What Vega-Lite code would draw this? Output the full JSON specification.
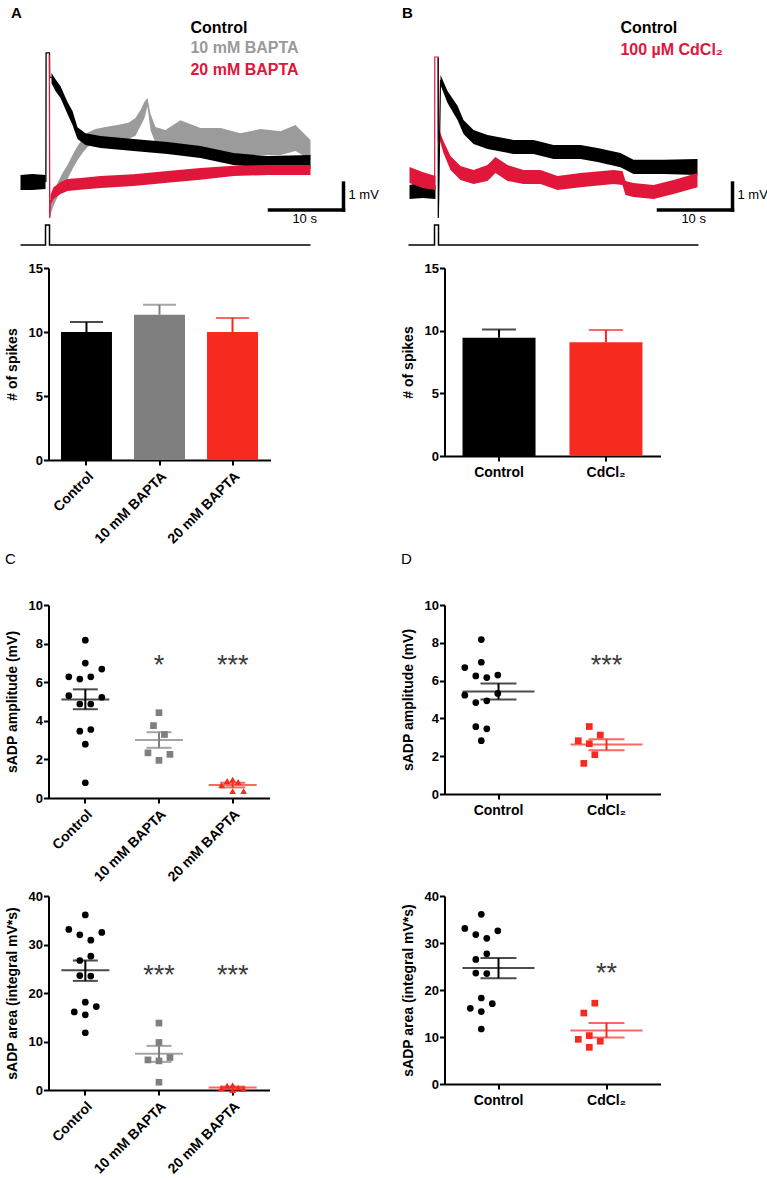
{
  "$schema": "https://vega.github.io/schema/vega-lite/v6.json",
  "background": "white",
  "padding": {"left": 4.5, "top": 0, "right": 0, "bottom": 0},
  "spacing": 6,
  "datasets": {
    "traceA": [
      {"trace": "Control", "seg": "pre", "t": 0, "lo": -0.3, "hi": 0.26},
      {"trace": "Control", "seg": "pre", "t": 1.6, "lo": -0.3, "hi": 0.3},
      {"trace": "Control", "seg": "pre", "t": 3.38, "lo": -0.26, "hi": 0.26},
      {"trace": "Control", "seg": "post", "t": 4.19, "lo": 3.66, "hi": 4.04},
      {"trace": "Control", "seg": "post", "t": 4.73, "lo": 3.37, "hi": 3.81},
      {"trace": "Control", "seg": "post", "t": 5.41, "lo": 3.11, "hi": 3.55},
      {"trace": "Control", "seg": "post", "t": 6.35, "lo": 2.52, "hi": 2.96},
      {"trace": "Control", "seg": "post", "t": 7.03, "lo": 2.11, "hi": 2.63},
      {"trace": "Control", "seg": "post", "t": 7.7, "lo": 1.59, "hi": 2.03},
      {"trace": "Control", "seg": "post", "t": 8.78, "lo": 1.37, "hi": 1.81},
      {"trace": "Control", "seg": "post", "t": 10.81, "lo": 1.26, "hi": 1.7},
      {"trace": "Control", "seg": "post", "t": 15.27, "lo": 1.15, "hi": 1.59},
      {"trace": "Control", "seg": "post", "t": 19.86, "lo": 1.04, "hi": 1.48},
      {"trace": "Control", "seg": "post", "t": 24.32, "lo": 0.89, "hi": 1.33},
      {"trace": "Control", "seg": "post", "t": 28.78, "lo": 0.63, "hi": 1.07},
      {"trace": "Control", "seg": "post", "t": 33.38, "lo": 0.52, "hi": 0.96},
      {"trace": "Control", "seg": "post", "t": 39.19, "lo": 0.48, "hi": 1.0},
      {"trace": "10 mM BAPTA", "seg": "post", "t": 4.05, "lo": -1.19, "hi": -0.89},
      {"trace": "10 mM BAPTA", "seg": "post", "t": 4.46, "lo": -0.89, "hi": -0.45},
      {"trace": "10 mM BAPTA", "seg": "post", "t": 5.0, "lo": -0.56, "hi": -0.04},
      {"trace": "10 mM BAPTA", "seg": "post", "t": 5.68, "lo": -0.19, "hi": 0.33},
      {"trace": "10 mM BAPTA", "seg": "post", "t": 6.35, "lo": 0.11, "hi": 0.63},
      {"trace": "10 mM BAPTA", "seg": "post", "t": 7.03, "lo": 0.48, "hi": 1.0},
      {"trace": "10 mM BAPTA", "seg": "post", "t": 7.7, "lo": 0.81, "hi": 1.33},
      {"trace": "10 mM BAPTA", "seg": "post", "t": 8.38, "lo": 1.07, "hi": 1.59},
      {"trace": "10 mM BAPTA", "seg": "post", "t": 9.05, "lo": 1.3, "hi": 1.82},
      {"trace": "10 mM BAPTA", "seg": "post", "t": 10.14, "lo": 1.44, "hi": 1.96},
      {"trace": "10 mM BAPTA", "seg": "post", "t": 11.49, "lo": 1.52, "hi": 2.04},
      {"trace": "10 mM BAPTA", "seg": "post", "t": 13.11, "lo": 1.51, "hi": 2.11},
      {"trace": "10 mM BAPTA", "seg": "post", "t": 14.59, "lo": 1.59, "hi": 2.19},
      {"trace": "10 mM BAPTA", "seg": "post", "t": 15.54, "lo": 1.71, "hi": 2.37},
      {"trace": "10 mM BAPTA", "seg": "post", "t": 16.22, "lo": 2.07, "hi": 2.67},
      {"trace": "10 mM BAPTA", "seg": "post", "t": 16.76, "lo": 2.37, "hi": 2.97},
      {"trace": "10 mM BAPTA", "seg": "post", "t": 17.16, "lo": 2.81, "hi": 3.11},
      {"trace": "10 mM BAPTA", "seg": "post", "t": 17.57, "lo": 1.92, "hi": 2.52},
      {"trace": "10 mM BAPTA", "seg": "post", "t": 18.24, "lo": 1.44, "hi": 2.04},
      {"trace": "10 mM BAPTA", "seg": "post", "t": 19.59, "lo": 1.19, "hi": 1.93},
      {"trace": "10 mM BAPTA", "seg": "post", "t": 21.62, "lo": 1.41, "hi": 2.29},
      {"trace": "10 mM BAPTA", "seg": "post", "t": 24.32, "lo": 1.12, "hi": 2.0},
      {"trace": "10 mM BAPTA", "seg": "post", "t": 27.03, "lo": 1.12, "hi": 2.0},
      {"trace": "10 mM BAPTA", "seg": "post", "t": 29.73, "lo": 0.93, "hi": 1.81},
      {"trace": "10 mM BAPTA", "seg": "post", "t": 32.43, "lo": 1.0, "hi": 1.96},
      {"trace": "10 mM BAPTA", "seg": "post", "t": 35.14, "lo": 1.0, "hi": 1.88},
      {"trace": "10 mM BAPTA", "seg": "post", "t": 37.16, "lo": 1.15, "hi": 2.11},
      {"trace": "10 mM BAPTA", "seg": "post", "t": 39.19, "lo": 0.82, "hi": 1.56},
      {"trace": "20 mM BAPTA", "seg": "post", "t": 4.05, "lo": -0.85, "hi": -0.48},
      {"trace": "20 mM BAPTA", "seg": "post", "t": 4.46, "lo": -0.63, "hi": -0.19},
      {"trace": "20 mM BAPTA", "seg": "post", "t": 5.41, "lo": -0.44, "hi": 0.0},
      {"trace": "20 mM BAPTA", "seg": "post", "t": 6.35, "lo": -0.33, "hi": 0.11},
      {"trace": "20 mM BAPTA", "seg": "post", "t": 8.11, "lo": -0.29, "hi": 0.15},
      {"trace": "20 mM BAPTA", "seg": "post", "t": 10.81, "lo": -0.22, "hi": 0.22},
      {"trace": "20 mM BAPTA", "seg": "post", "t": 15.27, "lo": -0.15, "hi": 0.29},
      {"trace": "20 mM BAPTA", "seg": "post", "t": 19.86, "lo": -0.03, "hi": 0.41},
      {"trace": "20 mM BAPTA", "seg": "post", "t": 24.32, "lo": 0.08, "hi": 0.52},
      {"trace": "20 mM BAPTA", "seg": "post", "t": 28.78, "lo": 0.22, "hi": 0.6},
      {"trace": "20 mM BAPTA", "seg": "post", "t": 33.38, "lo": 0.26, "hi": 0.63},
      {"trace": "20 mM BAPTA", "seg": "post", "t": 39.19, "lo": 0.26, "hi": 0.63}
    ],
    "traceB": [
      {"trace": "Control", "seg": "pre", "t": 0, "lo": -0.63, "hi": -0.11},
      {"trace": "Control", "seg": "pre", "t": 1.76, "lo": -0.59, "hi": 0.0},
      {"trace": "Control", "seg": "pre", "t": 3.51, "lo": -0.63, "hi": -0.11},
      {"trace": "Control", "seg": "post", "t": 4.19, "lo": 3.59, "hi": 3.96},
      {"trace": "Control", "seg": "post", "t": 5.14, "lo": 2.93, "hi": 3.37},
      {"trace": "Control", "seg": "post", "t": 6.49, "lo": 2.3, "hi": 2.82},
      {"trace": "Control", "seg": "post", "t": 7.3, "lo": 1.78, "hi": 2.3},
      {"trace": "Control", "seg": "post", "t": 8.65, "lo": 1.41, "hi": 1.93},
      {"trace": "Control", "seg": "post", "t": 10.54, "lo": 1.22, "hi": 1.74},
      {"trace": "Control", "seg": "post", "t": 14.05, "lo": 1.04, "hi": 1.56},
      {"trace": "Control", "seg": "post", "t": 16.76, "lo": 1.04, "hi": 1.56},
      {"trace": "Control", "seg": "post", "t": 19.46, "lo": 0.85, "hi": 1.37},
      {"trace": "Control", "seg": "post", "t": 23.11, "lo": 0.85, "hi": 1.37},
      {"trace": "Control", "seg": "post", "t": 25.41, "lo": 0.74, "hi": 1.26},
      {"trace": "Control", "seg": "post", "t": 28.51, "lo": 0.55, "hi": 1.07},
      {"trace": "Control", "seg": "post", "t": 30.27, "lo": 0.3, "hi": 0.82},
      {"trace": "Control", "seg": "post", "t": 34.32, "lo": 0.3, "hi": 0.82},
      {"trace": "Control", "seg": "post", "t": 38.92, "lo": 0.26, "hi": 0.85},
      {"trace": "CdCl₂", "seg": "pre", "t": 0, "lo": -0.04, "hi": 0.56},
      {"trace": "CdCl₂", "seg": "pre", "t": 1.76, "lo": -0.22, "hi": 0.37},
      {"trace": "CdCl₂", "seg": "pre", "t": 3.51, "lo": -0.3, "hi": 0.22},
      {"trace": "CdCl₂", "seg": "post", "t": 3.96, "lo": 1.67, "hi": 1.96},
      {"trace": "CdCl₂", "seg": "post", "t": 4.59, "lo": 1.07, "hi": 1.52},
      {"trace": "CdCl₂", "seg": "post", "t": 5.54, "lo": 0.44, "hi": 0.96},
      {"trace": "CdCl₂", "seg": "post", "t": 6.89, "lo": 0.07, "hi": 0.59},
      {"trace": "CdCl₂", "seg": "post", "t": 8.65, "lo": -0.07, "hi": 0.44},
      {"trace": "CdCl₂", "seg": "post", "t": 10.54, "lo": 0.04, "hi": 0.63},
      {"trace": "CdCl₂", "seg": "post", "t": 11.62, "lo": 0.33, "hi": 0.93},
      {"trace": "CdCl₂", "seg": "post", "t": 13.24, "lo": 0.04, "hi": 0.63},
      {"trace": "CdCl₂", "seg": "post", "t": 15.41, "lo": -0.07, "hi": 0.44},
      {"trace": "CdCl₂", "seg": "post", "t": 17.7, "lo": -0.07, "hi": 0.44},
      {"trace": "CdCl₂", "seg": "post", "t": 20.0, "lo": -0.3, "hi": 0.22},
      {"trace": "CdCl₂", "seg": "post", "t": 23.11, "lo": -0.19, "hi": 0.33},
      {"trace": "CdCl₂", "seg": "post", "t": 27.57, "lo": -0.07, "hi": 0.44},
      {"trace": "CdCl₂", "seg": "post", "t": 28.78, "lo": -0.11, "hi": 0.41},
      {"trace": "CdCl₂", "seg": "post", "t": 29.19, "lo": -0.48, "hi": 0.04},
      {"trace": "CdCl₂", "seg": "post", "t": 30.27, "lo": -0.56, "hi": -0.04},
      {"trace": "CdCl₂", "seg": "post", "t": 32.97, "lo": -0.63, "hi": -0.11},
      {"trace": "CdCl₂", "seg": "post", "t": 35.68, "lo": -0.44, "hi": 0.07},
      {"trace": "CdCl₂", "seg": "post", "t": 38.92, "lo": -0.19, "hi": 0.33}
    ],
    "spikes": [
      {"panel": "A", "trace": "Control", "i": 0, "t": 3.43, "v": 0},
      {"panel": "A", "trace": "Control", "i": 1, "t": 3.46, "v": 4.78},
      {"panel": "A", "trace": "Control", "i": 2, "t": 3.92, "v": 4.78},
      {"panel": "A", "trace": "Control", "i": 3, "t": 3.94, "v": 3.9},
      {"panel": "A", "trace": "Control", "i": 4, "t": 4.19, "v": 3.85},
      {"panel": "A", "trace": "red", "i": 0, "t": 3.9, "v": 4.7},
      {"panel": "A", "trace": "red", "i": 1, "t": 3.95, "v": -1.33},
      {"panel": "A", "trace": "red", "i": 2, "t": 4.05, "v": -0.67},
      {"panel": "A", "trace": "gray", "i": 0, "t": 3.97, "v": -0.9},
      {"panel": "A", "trace": "gray", "i": 1, "t": 4.0, "v": -1.25},
      {"panel": "A", "trace": "gray", "i": 2, "t": 4.05, "v": -1.04},
      {"panel": "B", "trace": "red", "i": 0, "t": 3.4, "v": -0.04},
      {"panel": "B", "trace": "red", "i": 1, "t": 3.42, "v": 4.63},
      {"panel": "B", "trace": "red", "i": 2, "t": 3.88, "v": 4.63},
      {"panel": "B", "trace": "red", "i": 3, "t": 3.9, "v": 1.5},
      {"panel": "B", "trace": "red", "i": 4, "t": 3.96, "v": 1.81},
      {"panel": "B", "trace": "Control", "i": 0, "t": 3.87, "v": 4.6},
      {"panel": "B", "trace": "Control", "i": 1, "t": 3.89, "v": -1.33},
      {"panel": "B", "trace": "Control", "i": 2, "t": 3.95, "v": -0.5},
      {"panel": "B", "trace": "Control", "i": 3, "t": 4.19, "v": 3.78}
    ],
    "stim": [
      {"panel": "A", "i": 0, "t": 0, "s": 0},
      {"panel": "A", "i": 1, "t": 3.38, "s": 0},
      {"panel": "A", "i": 2, "t": 3.38, "s": 1},
      {"panel": "A", "i": 3, "t": 3.92, "s": 1},
      {"panel": "A", "i": 4, "t": 3.92, "s": 0},
      {"panel": "A", "i": 5, "t": 39.19, "s": 0},
      {"panel": "B", "i": 0, "t": -0.14, "s": 0},
      {"panel": "B", "i": 1, "t": 3.38, "s": 0},
      {"panel": "B", "i": 2, "t": 3.38, "s": 1},
      {"panel": "B", "i": 3, "t": 3.92, "s": 1},
      {"panel": "B", "i": 4, "t": 3.92, "s": 0},
      {"panel": "B", "i": 5, "t": 39.05, "s": 0}
    ],
    "scalebar": [
      {"t1": 43.65, "t2": 43.65, "v1": -0.04, "v2": -1.04},
      {"t1": 33.65, "t2": 43.65, "v1": -1.04, "v2": -1.04}
    ],
    "traceText": [
      {"panel": "A", "kind": "legend", "series": "Control", "text": "Control", "t": 22.97, "v": 5.72},
      {"panel": "A", "kind": "legend", "series": "10 mM BAPTA", "text": "10 mM BAPTA", "t": 22.97, "v": 4.96},
      {"panel": "A", "kind": "legend", "series": "20 mM BAPTA", "text": "20 mM BAPTA", "t": 22.97, "v": 4.15},
      {"panel": "B", "kind": "legend", "series": "Control", "text": "Control", "t": 28.5, "v": 5.7},
      {"panel": "B", "kind": "legend", "series": "CdCl₂", "text": "100 µM CdCl₂", "t": 28.5, "v": 4.89},
      {"panel": "A", "kind": "mv", "series": "Control", "text": "1 mV", "t": 44.32, "v": -0.48},
      {"panel": "B", "kind": "mv", "series": "Control", "text": "1 mV", "t": 44.32, "v": -0.48},
      {"panel": "A", "kind": "sec", "series": "Control", "text": "10 s", "t": 38.4, "v": -1.37},
      {"panel": "B", "kind": "sec", "series": "Control", "text": "10 s", "t": 38.4, "v": -1.37},
      {"panel": "A", "kind": "letter", "series": "Control", "text": "A", "t": -0.54, "v": 6.26},
      {"panel": "B", "kind": "letter", "series": "Control", "text": "B", "t": -0.27, "v": 6.26}
    ],
    "barsA": [
      {"group": "Control", "mean": 10.0, "upper": 10.78},
      {"group": "10 mM BAPTA", "mean": 11.35, "upper": 12.12},
      {"group": "20 mM BAPTA", "mean": 10.0, "upper": 11.1}
    ],
    "barsB": [
      {"group": "Control", "mean": 9.44, "upper": 10.1},
      {"group": "CdCl₂", "mean": 9.07, "upper": 10.05}
    ],
    "ampC": [
      {"group": "Control", "value": 8.18, "jitter": 0},
      {"group": "Control", "value": 6.99, "jitter": 0},
      {"group": "Control", "value": 6.28, "jitter": -3},
      {"group": "Control", "value": 6.16, "jitter": -1},
      {"group": "Control", "value": 6.28, "jitter": 1},
      {"group": "Control", "value": 6.68, "jitter": 3},
      {"group": "Control", "value": 5.3, "jitter": -3},
      {"group": "Control", "value": 5.22, "jitter": 3},
      {"group": "Control", "value": 4.87, "jitter": -1},
      {"group": "Control", "value": 4.87, "jitter": 1},
      {"group": "Control", "value": 3.46, "jitter": -1},
      {"group": "Control", "value": 3.55, "jitter": 1},
      {"group": "Control", "value": 2.79, "jitter": 0},
      {"group": "Control", "value": 0.79, "jitter": 0},
      {"group": "10 mM BAPTA", "value": 4.42, "jitter": 0},
      {"group": "10 mM BAPTA", "value": 3.75, "jitter": -1},
      {"group": "10 mM BAPTA", "value": 3.29, "jitter": 1},
      {"group": "10 mM BAPTA", "value": 2.34, "jitter": -2},
      {"group": "10 mM BAPTA", "value": 2.26, "jitter": 2},
      {"group": "10 mM BAPTA", "value": 1.95, "jitter": 0},
      {"group": "20 mM BAPTA", "value": 0.65, "jitter": -2},
      {"group": "20 mM BAPTA", "value": 0.88, "jitter": -1},
      {"group": "20 mM BAPTA", "value": 0.95, "jitter": 0},
      {"group": "20 mM BAPTA", "value": 0.83, "jitter": 1},
      {"group": "20 mM BAPTA", "value": 0.36, "jitter": 0},
      {"group": "20 mM BAPTA", "value": 0.36, "jitter": 2}
    ],
    "ampD": [
      {"group": "Control", "value": 8.17, "jitter": 0},
      {"group": "Control", "value": 6.97, "jitter": 0},
      {"group": "Control", "value": 6.69, "jitter": -3},
      {"group": "Control", "value": 6.25, "jitter": -1},
      {"group": "Control", "value": 6.16, "jitter": 1},
      {"group": "Control", "value": 6.29, "jitter": 3},
      {"group": "Control", "value": 5.23, "jitter": -3},
      {"group": "Control", "value": 5.32, "jitter": 3},
      {"group": "Control", "value": 4.84, "jitter": -1},
      {"group": "Control", "value": 4.93, "jitter": 1},
      {"group": "Control", "value": 3.56, "jitter": -1},
      {"group": "Control", "value": 3.45, "jitter": 1},
      {"group": "Control", "value": 2.82, "jitter": 0},
      {"group": "CdCl₂", "value": 3.57, "jitter": 0},
      {"group": "CdCl₂", "value": 3.12, "jitter": 2},
      {"group": "CdCl₂", "value": 2.82, "jitter": -2},
      {"group": "CdCl₂", "value": 2.66, "jitter": 0},
      {"group": "CdCl₂", "value": 2.08, "jitter": 1},
      {"group": "CdCl₂", "value": 1.62, "jitter": -1}
    ],
    "areaC": [
      {"group": "Control", "value": 36.1, "jitter": 0},
      {"group": "Control", "value": 33.1, "jitter": -3},
      {"group": "Control", "value": 32.0, "jitter": -1},
      {"group": "Control", "value": 30.9, "jitter": 1},
      {"group": "Control", "value": 32.5, "jitter": 3},
      {"group": "Control", "value": 26.7, "jitter": -1},
      {"group": "Control", "value": 27.6, "jitter": 1},
      {"group": "Control", "value": 23.6, "jitter": -1},
      {"group": "Control", "value": 23.5, "jitter": 1},
      {"group": "Control", "value": 18.1, "jitter": 0},
      {"group": "Control", "value": 16.1, "jitter": -2},
      {"group": "Control", "value": 17.2, "jitter": 2},
      {"group": "Control", "value": 15.5, "jitter": 0},
      {"group": "Control", "value": 11.8, "jitter": 0},
      {"group": "10 mM BAPTA", "value": 13.8, "jitter": 0},
      {"group": "10 mM BAPTA", "value": 9.8, "jitter": 0},
      {"group": "10 mM BAPTA", "value": 6.2, "jitter": -2},
      {"group": "10 mM BAPTA", "value": 6.0, "jitter": 0},
      {"group": "10 mM BAPTA", "value": 6.7, "jitter": 2},
      {"group": "10 mM BAPTA", "value": 1.6, "jitter": 0},
      {"group": "20 mM BAPTA", "value": 0.4, "jitter": -2},
      {"group": "20 mM BAPTA", "value": 0.9, "jitter": -1},
      {"group": "20 mM BAPTA", "value": 1.0, "jitter": 0},
      {"group": "20 mM BAPTA", "value": 0.5, "jitter": 1},
      {"group": "20 mM BAPTA", "value": 0.0, "jitter": 0},
      {"group": "20 mM BAPTA", "value": 0.2, "jitter": 2}
    ],
    "areaD": [
      {"group": "Control", "value": 36.1, "jitter": 0},
      {"group": "Control", "value": 33.1, "jitter": -3},
      {"group": "Control", "value": 31.8, "jitter": -1},
      {"group": "Control", "value": 31.0, "jitter": 1},
      {"group": "Control", "value": 32.6, "jitter": 3},
      {"group": "Control", "value": 26.5, "jitter": -1},
      {"group": "Control", "value": 27.7, "jitter": 1},
      {"group": "Control", "value": 23.6, "jitter": -1},
      {"group": "Control", "value": 23.5, "jitter": 1},
      {"group": "Control", "value": 18.3, "jitter": 0},
      {"group": "Control", "value": 16.1, "jitter": -2},
      {"group": "Control", "value": 17.1, "jitter": 2},
      {"group": "Control", "value": 15.4, "jitter": 0},
      {"group": "Control", "value": 11.7, "jitter": 0},
      {"group": "CdCl₂", "value": 17.2, "jitter": 1},
      {"group": "CdCl₂", "value": 15.1, "jitter": -1},
      {"group": "CdCl₂", "value": 10.3, "jitter": 0},
      {"group": "CdCl₂", "value": 9.5, "jitter": -2},
      {"group": "CdCl₂", "value": 9.1, "jitter": 2},
      {"group": "CdCl₂", "value": 7.8, "jitter": 0}
    ],
    "summ": [
      {"panel": "Camp", "group": "Control", "mean": 5.1, "lo": 4.6, "hi": 5.63},
      {"panel": "Camp", "group": "10 mM BAPTA", "mean": 3.0, "lo": 2.6, "hi": 3.41},
      {"panel": "Camp", "group": "20 mM BAPTA", "mean": 0.67, "lo": 0.55, "hi": 0.79},
      {"panel": "Damp", "group": "Control", "mean": 5.42, "lo": 5.0, "hi": 5.85},
      {"panel": "Damp", "group": "CdCl₂", "mean": 2.62, "lo": 2.32, "hi": 2.9},
      {"panel": "Carea", "group": "Control", "mean": 24.7, "lo": 22.5, "hi": 26.7},
      {"panel": "Carea", "group": "10 mM BAPTA", "mean": 7.5, "lo": 5.8, "hi": 9.1},
      {"panel": "Carea", "group": "20 mM BAPTA", "mean": 0.5, "lo": 0.3, "hi": 0.7},
      {"panel": "Darea", "group": "Control", "mean": 24.7, "lo": 22.5, "hi": 26.8},
      {"panel": "Darea", "group": "CdCl₂", "mean": 11.4, "lo": 9.9, "hi": 13.0}
    ],
    "stars": [
      {"panel": "Camp", "group": "10 mM BAPTA", "text": "*", "v": 6.4},
      {"panel": "Camp", "group": "20 mM BAPTA", "text": "***", "v": 6.4},
      {"panel": "Damp", "group": "CdCl₂", "text": "***", "v": 6.37},
      {"panel": "Carea", "group": "10 mM BAPTA", "text": "***", "v": 21.8},
      {"panel": "Carea", "group": "20 mM BAPTA", "text": "***", "v": 21.8},
      {"panel": "Darea", "group": "CdCl₂", "text": "**", "v": 21.7}
    ]
  },
  "vconcat": [
    {
      "spacing": 18,
      "hconcat": [
        {
          "width": 333, "height": 256,
          "resolve": {"scale": {"y": "independent"}},
          "layer": [
            {
              "layer": [
                {"data": {"name": "traceA"}, "transform": [{"filter": "datum.trace === '10 mM BAPTA'"}],
                 "mark": {"type": "area", "color": "#9b9b9b"},
                 "encoding": {"x": {"field": "t", "type": "quantitative", "scale": {"domain": [3.784, 48.784], "nice": false, "zero": false}, "axis": null},
                   "y": {"field": "lo", "type": "quantitative", "scale": {"domain": [-2.741, 6.741], "nice": false, "zero": false}, "axis": null},
                   "y2": {"field": "hi"}, "detail": {"field": "seg"}}},
                {"data": {"name": "traceA"}, "transform": [{"filter": "datum.trace === 'Control'"}],
                 "mark": {"type": "area", "color": "#000000"},
                 "encoding": {"x": {"field": "t", "type": "quantitative"}, "y": {"field": "lo", "type": "quantitative"}, "y2": {"field": "hi"}, "detail": {"field": "seg"}}},
                {"data": {"name": "traceA"}, "transform": [{"filter": "datum.trace === '20 mM BAPTA'"}],
                 "mark": {"type": "area", "color": "#e0163a"},
                 "encoding": {"x": {"field": "t", "type": "quantitative"}, "y": {"field": "lo", "type": "quantitative"}, "y2": {"field": "hi"}, "detail": {"field": "seg"}}},
                {"data": {"name": "spikes"}, "transform": [{"filter": "datum.panel === 'A' && datum.trace === 'gray'"}],
                 "mark": {"type": "line", "color": "#9b9b9b", "strokeWidth": 1.3},
                 "encoding": {"x": {"field": "t", "type": "quantitative"}, "y": {"field": "v", "type": "quantitative"}, "order": {"field": "i"}}},
                {"data": {"name": "spikes"}, "transform": [{"filter": "datum.panel === 'A' && datum.trace === 'Control'"}],
                 "mark": {"type": "line", "color": "#000000", "strokeWidth": 1.3},
                 "encoding": {"x": {"field": "t", "type": "quantitative"}, "y": {"field": "v", "type": "quantitative"}, "order": {"field": "i"}}},
                {"data": {"name": "spikes"}, "transform": [{"filter": "datum.panel === 'A' && datum.trace === 'red'"}],
                 "mark": {"type": "line", "color": "#e0163a", "strokeWidth": 1.3},
                 "encoding": {"x": {"field": "t", "type": "quantitative"}, "y": {"field": "v", "type": "quantitative"}, "order": {"field": "i"}}},
                {"data": {"name": "scalebar"},
                 "mark": {"type": "rule", "color": "#000000", "strokeWidth": 3.5, "strokeCap": "square"},
                 "encoding": {"x": {"field": "t1", "type": "quantitative"}, "x2": {"field": "t2"}, "y": {"field": "v1", "type": "quantitative"}, "y2": {"field": "v2"}}},
                {"data": {"name": "traceText"}, "transform": [{"filter": "datum.panel === 'A' && datum.kind === 'legend'"}],
                 "mark": {"type": "text", "align": "left", "baseline": "middle", "fontSize": 16, "fontWeight": "bold", "font": "Liberation Sans"},
                 "encoding": {"x": {"field": "t", "type": "quantitative"}, "y": {"field": "v", "type": "quantitative"}, "text": {"field": "text"},
                   "fill": {"field": "series", "type": "nominal", "scale": {"domain": ["Control", "10 mM BAPTA", "20 mM BAPTA", "CdCl₂"], "range": ["#000000", "#9a9a9a", "#e0163a", "#e0163a"]}, "legend": null}}},
                {"data": {"name": "traceText"}, "transform": [{"filter": "datum.panel === 'A' && datum.kind === 'mv'"}],
                 "mark": {"type": "text", "align": "left", "baseline": "middle", "fontSize": 13, "font": "Liberation Sans", "color": "#000000"},
                 "encoding": {"x": {"field": "t", "type": "quantitative"}, "y": {"field": "v", "type": "quantitative"}, "text": {"field": "text"}}},
                {"data": {"name": "traceText"}, "transform": [{"filter": "datum.panel === 'A' && datum.kind === 'sec'"}],
                 "mark": {"type": "text", "align": "center", "baseline": "middle", "fontSize": 13, "font": "Liberation Sans", "color": "#000000"},
                 "encoding": {"x": {"field": "t", "type": "quantitative"}, "y": {"field": "v", "type": "quantitative"}, "text": {"field": "text"}}},
                {"data": {"name": "traceText"}, "transform": [{"filter": "datum.panel === 'A' && datum.kind === 'letter'"}],
                 "mark": {"type": "text", "align": "center", "baseline": "middle", "fontSize": 15, "fontWeight": "bold", "font": "Liberation Sans", "color": "#000000"},
                 "encoding": {"x": {"field": "t", "type": "quantitative"}, "y": {"field": "v", "type": "quantitative"}, "text": {"field": "text"}}}
              ]
            },
            {"data": {"name": "stim"}, "transform": [{"filter": "datum.panel === 'A'"}],
             "mark": {"type": "line", "color": "#000000", "strokeWidth": 1.5},
             "encoding": {"x": {"field": "t", "type": "quantitative"},
               "y": {"field": "s", "type": "quantitative", "scale": {"domain": [-0.55, 12.25], "nice": false, "zero": false}, "axis": null},
               "order": {"field": "i"}}}
          ]
        },
        {
          "width": 365, "height": 256,
          "resolve": {"scale": {"y": "independent"}},
          "layer": [
            {
              "layer": [
                {"data": {"name": "traceB"}, "transform": [{"filter": "datum.trace === 'Control'"}],
                 "mark": {"type": "area", "color": "#000000"},
                 "encoding": {"x": {"field": "t", "type": "quantitative", "scale": {"domain": [-1.351, 47.973], "nice": false, "zero": false}, "axis": null},
                   "y": {"field": "lo", "type": "quantitative", "scale": {"domain": [-2.741, 6.741], "nice": false, "zero": false}, "axis": null},
                   "y2": {"field": "hi"}, "detail": {"field": "seg"}}},
                {"data": {"name": "traceB"}, "transform": [{"filter": "datum.trace === 'CdCl₂'"}],
                 "mark": {"type": "area", "color": "#e0163a"},
                 "encoding": {"x": {"field": "t", "type": "quantitative"}, "y": {"field": "lo", "type": "quantitative"}, "y2": {"field": "hi"}, "detail": {"field": "seg"}}},
                {"data": {"name": "spikes"}, "transform": [{"filter": "datum.panel === 'B' && datum.trace === 'red'"}],
                 "mark": {"type": "line", "color": "#e0163a", "strokeWidth": 1.2},
                 "encoding": {"x": {"field": "t", "type": "quantitative"}, "y": {"field": "v", "type": "quantitative"}, "order": {"field": "i"}}},
                {"data": {"name": "spikes"}, "transform": [{"filter": "datum.panel === 'B' && datum.trace === 'Control'"}],
                 "mark": {"type": "line", "color": "#000000", "strokeWidth": 1.2},
                 "encoding": {"x": {"field": "t", "type": "quantitative"}, "y": {"field": "v", "type": "quantitative"}, "order": {"field": "i"}}},
                {"data": {"name": "scalebar"},
                 "mark": {"type": "rule", "color": "#000000", "strokeWidth": 3.5, "strokeCap": "square"},
                 "encoding": {"x": {"field": "t1", "type": "quantitative"}, "x2": {"field": "t2"}, "y": {"field": "v1", "type": "quantitative"}, "y2": {"field": "v2"}}},
                {"data": {"name": "traceText"}, "transform": [{"filter": "datum.panel === 'B' && datum.kind === 'legend'"}],
                 "mark": {"type": "text", "align": "left", "baseline": "middle", "fontSize": 16, "fontWeight": "bold", "font": "Liberation Sans"},
                 "encoding": {"x": {"field": "t", "type": "quantitative"}, "y": {"field": "v", "type": "quantitative"}, "text": {"field": "text"},
                   "fill": {"field": "series", "type": "nominal", "scale": {"domain": ["Control", "10 mM BAPTA", "20 mM BAPTA", "CdCl₂"], "range": ["#000000", "#9a9a9a", "#e0163a", "#e0163a"]}, "legend": null}}},
                {"data": {"name": "traceText"}, "transform": [{"filter": "datum.panel === 'B' && datum.kind === 'mv'"}],
                 "mark": {"type": "text", "align": "left", "baseline": "middle", "fontSize": 13, "font": "Liberation Sans", "color": "#000000"},
                 "encoding": {"x": {"field": "t", "type": "quantitative"}, "y": {"field": "v", "type": "quantitative"}, "text": {"field": "text"}}},
                {"data": {"name": "traceText"}, "transform": [{"filter": "datum.panel === 'B' && datum.kind === 'sec'"}],
                 "mark": {"type": "text", "align": "center", "baseline": "middle", "fontSize": 13, "font": "Liberation Sans", "color": "#000000"},
                 "encoding": {"x": {"field": "t", "type": "quantitative"}, "y": {"field": "v", "type": "quantitative"}, "text": {"field": "text"}}},
                {"data": {"name": "traceText"}, "transform": [{"filter": "datum.panel === 'B' && datum.kind === 'letter'"}],
                 "mark": {"type": "text", "align": "center", "baseline": "middle", "fontSize": 15, "fontWeight": "bold", "font": "Liberation Sans", "color": "#000000"},
                 "encoding": {"x": {"field": "t", "type": "quantitative"}, "y": {"field": "v", "type": "quantitative"}, "text": {"field": "text"}}}
              ]
            },
            {"data": {"name": "stim"}, "transform": [{"filter": "datum.panel === 'B'"}],
             "mark": {"type": "line", "color": "#000000", "strokeWidth": 1.5},
             "encoding": {"x": {"field": "t", "type": "quantitative"},
               "y": {"field": "s", "type": "quantitative", "scale": {"domain": [-0.55, 12.25], "nice": false, "zero": false}, "axis": null},
               "order": {"field": "i"}}}
          ]
        }
      ]
    },
    {
      "spacing": 130,
      "hconcat": [
        {
          "width": 222, "height": 192,
          "data": {"name": "barsA"},
          "encoding": {"x": {"field": "group", "type": "nominal", "scale": {"type": "band", "domain": ["Control", "10 mM BAPTA", "20 mM BAPTA"], "paddingInner": 0.3, "paddingOuter": 0.17}, "axis": {"title": null, "labelAngle": -45}}},
          "layer": [
            {"mark": {"type": "bar", "size": 51},
             "encoding": {"y": {"field": "mean", "type": "quantitative", "scale": {"domain": [0, 15], "nice": false}, "axis": {"title": "# of spikes", "values": [0, 5, 10, 15], "labelOverlap": false}},
               "color": {"field": "group", "type": "nominal", "scale": {"domain": ["Control", "10 mM BAPTA", "20 mM BAPTA", "CdCl₂"], "range": ["#000000", "#7f7f7f", "#f72a1f", "#f72a1f"]}, "legend": null}}},
            {"mark": {"type": "rule", "strokeWidth": 2},
             "encoding": {"y": {"field": "mean", "type": "quantitative"}, "y2": {"field": "upper"}, "color": {"field": "group", "type": "nominal", "legend": null}}},
            {"mark": {"type": "tick", "thickness": 2, "size": 33},
             "encoding": {"y": {"field": "upper", "type": "quantitative"}, "color": {"field": "group", "type": "nominal", "legend": null}}}
          ]
        },
        {
          "width": 216, "height": 188,
          "data": {"name": "barsB"},
          "encoding": {"x": {"field": "group", "type": "nominal", "scale": {"type": "band", "domain": ["Control", "CdCl₂"], "paddingInner": 0.32, "paddingOuter": 0.17}, "axis": {"title": null, "labelAngle": 0}}},
          "layer": [
            {"mark": {"type": "bar", "size": 73},
             "encoding": {"y": {"field": "mean", "type": "quantitative", "scale": {"domain": [0, 15], "nice": false}, "axis": {"title": "# of spikes", "values": [0, 5, 10, 15], "labelOverlap": false}},
               "color": {"field": "group", "type": "nominal", "scale": {"domain": ["Control", "10 mM BAPTA", "20 mM BAPTA", "CdCl₂"], "range": ["#000000", "#7f7f7f", "#f72a1f", "#f72a1f"]}, "legend": null}}},
            {"mark": {"type": "rule", "strokeWidth": 2},
             "encoding": {"y": {"field": "mean", "type": "quantitative"}, "y2": {"field": "upper"}, "color": {"field": "group", "type": "nominal", "legend": null}}},
            {"mark": {"type": "tick", "thickness": 2, "size": 34},
             "encoding": {"y": {"field": "upper", "type": "quantitative"}, "color": {"field": "group", "type": "nominal", "legend": null}}}
          ]
        }
      ]
    },
    {
      "spacing": 131,
      "hconcat": [
        {
          "width": 221, "height": 193,
          "title": {"text": "C"},
          "encoding": {"x": {"field": "group", "type": "nominal", "scale": {"type": "band", "domain": ["Control", "10 mM BAPTA", "20 mM BAPTA"], "paddingInner": 0, "paddingOuter": 0}, "axis": {"title": null, "labelAngle": -45}}},
          "layer": [
            {"data": {"name": "ampC"}, "mark": {"type": "point", "filled": true, "opacity": 1, "size": 45},
             "encoding": {"xOffset": {"field": "jitter", "type": "quantitative", "scale": {"domain": [-4, 4], "range": [14.8, 58.8]}},
               "y": {"field": "value", "type": "quantitative", "scale": {"domain": [0, 10], "nice": false}, "axis": {"title": "sADP amplitude (mV)", "values": [0, 2, 4, 6, 8, 10], "tickCount": 6, "labelOverlap": false}},
               "shape": {"field": "group", "type": "nominal", "scale": {"domain": ["Control", "10 mM BAPTA", "20 mM BAPTA", "CdCl₂"], "range": ["circle", "square", "triangle-up", "square"]}, "legend": null},
               "color": {"field": "group", "type": "nominal", "scale": {"domain": ["Control", "10 mM BAPTA", "20 mM BAPTA", "CdCl₂"], "range": ["#000000", "#7f7f7f", "#f72a1f", "#f72a1f"]}, "legend": null}}},
            {"data": {"name": "summ"}, "transform": [{"filter": "datum.panel === 'Camp'"}], "mark": {"type": "tick", "thickness": 2, "size": 48},
             "encoding": {"y": {"field": "mean", "type": "quantitative"}, "color": {"field": "group", "type": "nominal", "legend": null}}},
            {"data": {"name": "summ"}, "transform": [{"filter": "datum.panel === 'Camp'"}], "mark": {"type": "tick", "thickness": 2, "size": 25},
             "encoding": {"y": {"field": "lo", "type": "quantitative"}, "color": {"field": "group", "type": "nominal", "legend": null}}},
            {"data": {"name": "summ"}, "transform": [{"filter": "datum.panel === 'Camp'"}], "mark": {"type": "tick", "thickness": 2, "size": 25},
             "encoding": {"y": {"field": "hi", "type": "quantitative"}, "color": {"field": "group", "type": "nominal", "legend": null}}},
            {"data": {"name": "summ"}, "transform": [{"filter": "datum.panel === 'Camp'"}], "mark": {"type": "rule", "strokeWidth": 2},
             "encoding": {"y": {"field": "lo", "type": "quantitative"}, "y2": {"field": "hi"}, "color": {"field": "group", "type": "nominal", "legend": null}}},
            {"data": {"name": "stars"}, "transform": [{"filter": "datum.panel === 'Camp'"}], "mark": {"type": "text", "fontSize": 27, "baseline": "alphabetic", "color": "#3c3c3c", "font": "Liberation Sans"},
             "encoding": {"y": {"field": "v", "type": "quantitative"}, "text": {"field": "text"}}}
          ]
        },
        {
          "width": 216, "height": 189,
          "title": {"text": "D"},
          "encoding": {"x": {"field": "group", "type": "nominal", "scale": {"type": "band", "domain": ["Control", "CdCl₂"], "paddingInner": 0, "paddingOuter": 0}, "axis": {"title": null, "labelAngle": 0}}},
          "layer": [
            {"data": {"name": "ampD"}, "mark": {"type": "point", "filled": true, "opacity": 1, "size": 45},
             "encoding": {"xOffset": {"field": "jitter", "type": "quantitative", "scale": {"domain": [-4, 4], "range": [32, 76]}},
               "y": {"field": "value", "type": "quantitative", "scale": {"domain": [0, 10], "nice": false}, "axis": {"title": "sADP amplitude (mV)", "values": [0, 2, 4, 6, 8, 10], "tickCount": 6, "labelOverlap": false}},
               "shape": {"field": "group", "type": "nominal", "scale": {"domain": ["Control", "10 mM BAPTA", "20 mM BAPTA", "CdCl₂"], "range": ["circle", "square", "triangle-up", "square"]}, "legend": null},
               "color": {"field": "group", "type": "nominal", "scale": {"domain": ["Control", "10 mM BAPTA", "20 mM BAPTA", "CdCl₂"], "range": ["#000000", "#7f7f7f", "#f72a1f", "#f72a1f"]}, "legend": null}}},
            {"data": {"name": "summ"}, "transform": [{"filter": "datum.panel === 'Damp'"}], "mark": {"type": "tick", "thickness": 2, "size": 72},
             "encoding": {"y": {"field": "mean", "type": "quantitative"}, "color": {"field": "group", "type": "nominal", "legend": null}}},
            {"data": {"name": "summ"}, "transform": [{"filter": "datum.panel === 'Damp'"}], "mark": {"type": "tick", "thickness": 2, "size": 36},
             "encoding": {"y": {"field": "lo", "type": "quantitative"}, "color": {"field": "group", "type": "nominal", "legend": null}}},
            {"data": {"name": "summ"}, "transform": [{"filter": "datum.panel === 'Damp'"}], "mark": {"type": "tick", "thickness": 2, "size": 36},
             "encoding": {"y": {"field": "hi", "type": "quantitative"}, "color": {"field": "group", "type": "nominal", "legend": null}}},
            {"data": {"name": "summ"}, "transform": [{"filter": "datum.panel === 'Damp'"}], "mark": {"type": "rule", "strokeWidth": 2},
             "encoding": {"y": {"field": "lo", "type": "quantitative"}, "y2": {"field": "hi"}, "color": {"field": "group", "type": "nominal", "legend": null}}},
            {"data": {"name": "stars"}, "transform": [{"filter": "datum.panel === 'Damp'"}], "mark": {"type": "text", "fontSize": 27, "baseline": "alphabetic", "color": "#3c3c3c", "font": "Liberation Sans"},
             "encoding": {"y": {"field": "v", "type": "quantitative"}, "text": {"field": "text"}}}
          ]
        }
      ]
    },
    {
      "spacing": 131,
      "hconcat": [
        {
          "width": 221, "height": 194,
          "encoding": {"x": {"field": "group", "type": "nominal", "scale": {"type": "band", "domain": ["Control", "10 mM BAPTA", "20 mM BAPTA"], "paddingInner": 0, "paddingOuter": 0}, "axis": {"title": null, "labelAngle": -45}}},
          "layer": [
            {"data": {"name": "areaC"}, "mark": {"type": "point", "filled": true, "opacity": 1, "size": 45},
             "encoding": {"xOffset": {"field": "jitter", "type": "quantitative", "scale": {"domain": [-4, 4], "range": [14.8, 58.8]}},
               "y": {"field": "value", "type": "quantitative", "scale": {"domain": [0, 40], "nice": false}, "axis": {"title": "sADP area (integral mV*s)", "values": [0, 10, 20, 30, 40], "labelOverlap": false}},
               "shape": {"field": "group", "type": "nominal", "scale": {"domain": ["Control", "10 mM BAPTA", "20 mM BAPTA", "CdCl₂"], "range": ["circle", "square", "triangle-up", "square"]}, "legend": null},
               "color": {"field": "group", "type": "nominal", "scale": {"domain": ["Control", "10 mM BAPTA", "20 mM BAPTA", "CdCl₂"], "range": ["#000000", "#7f7f7f", "#f72a1f", "#f72a1f"]}, "legend": null}}},
            {"data": {"name": "summ"}, "transform": [{"filter": "datum.panel === 'Carea'"}], "mark": {"type": "tick", "thickness": 2, "size": 48},
             "encoding": {"y": {"field": "mean", "type": "quantitative"}, "color": {"field": "group", "type": "nominal", "legend": null}}},
            {"data": {"name": "summ"}, "transform": [{"filter": "datum.panel === 'Carea'"}], "mark": {"type": "tick", "thickness": 2, "size": 25},
             "encoding": {"y": {"field": "lo", "type": "quantitative"}, "color": {"field": "group", "type": "nominal", "legend": null}}},
            {"data": {"name": "summ"}, "transform": [{"filter": "datum.panel === 'Carea'"}], "mark": {"type": "tick", "thickness": 2, "size": 25},
             "encoding": {"y": {"field": "hi", "type": "quantitative"}, "color": {"field": "group", "type": "nominal", "legend": null}}},
            {"data": {"name": "summ"}, "transform": [{"filter": "datum.panel === 'Carea'"}], "mark": {"type": "rule", "strokeWidth": 2},
             "encoding": {"y": {"field": "lo", "type": "quantitative"}, "y2": {"field": "hi"}, "color": {"field": "group", "type": "nominal", "legend": null}}},
            {"data": {"name": "stars"}, "transform": [{"filter": "datum.panel === 'Carea'"}], "mark": {"type": "text", "fontSize": 27, "baseline": "alphabetic", "color": "#3c3c3c", "font": "Liberation Sans"},
             "encoding": {"y": {"field": "v", "type": "quantitative"}, "text": {"field": "text"}}}
          ]
        },
        {
          "width": 216, "height": 188,
          "encoding": {"x": {"field": "group", "type": "nominal", "scale": {"type": "band", "domain": ["Control", "CdCl₂"], "paddingInner": 0, "paddingOuter": 0}, "axis": {"title": null, "labelAngle": 0}}},
          "layer": [
            {"data": {"name": "areaD"}, "mark": {"type": "point", "filled": true, "opacity": 1, "size": 45},
             "encoding": {"xOffset": {"field": "jitter", "type": "quantitative", "scale": {"domain": [-4, 4], "range": [32, 76]}},
               "y": {"field": "value", "type": "quantitative", "scale": {"domain": [0, 40], "nice": false}, "axis": {"title": "sADP area (integral mV*s)", "values": [0, 10, 20, 30, 40], "labelOverlap": false}},
               "shape": {"field": "group", "type": "nominal", "scale": {"domain": ["Control", "10 mM BAPTA", "20 mM BAPTA", "CdCl₂"], "range": ["circle", "square", "triangle-up", "square"]}, "legend": null},
               "color": {"field": "group", "type": "nominal", "scale": {"domain": ["Control", "10 mM BAPTA", "20 mM BAPTA", "CdCl₂"], "range": ["#000000", "#7f7f7f", "#f72a1f", "#f72a1f"]}, "legend": null}}},
            {"data": {"name": "summ"}, "transform": [{"filter": "datum.panel === 'Darea'"}], "mark": {"type": "tick", "thickness": 2, "size": 72},
             "encoding": {"y": {"field": "mean", "type": "quantitative"}, "color": {"field": "group", "type": "nominal", "legend": null}}},
            {"data": {"name": "summ"}, "transform": [{"filter": "datum.panel === 'Darea'"}], "mark": {"type": "tick", "thickness": 2, "size": 36},
             "encoding": {"y": {"field": "lo", "type": "quantitative"}, "color": {"field": "group", "type": "nominal", "legend": null}}},
            {"data": {"name": "summ"}, "transform": [{"filter": "datum.panel === 'Darea'"}], "mark": {"type": "tick", "thickness": 2, "size": 36},
             "encoding": {"y": {"field": "hi", "type": "quantitative"}, "color": {"field": "group", "type": "nominal", "legend": null}}},
            {"data": {"name": "summ"}, "transform": [{"filter": "datum.panel === 'Darea'"}], "mark": {"type": "rule", "strokeWidth": 2},
             "encoding": {"y": {"field": "lo", "type": "quantitative"}, "y2": {"field": "hi"}, "color": {"field": "group", "type": "nominal", "legend": null}}},
            {"data": {"name": "stars"}, "transform": [{"filter": "datum.panel === 'Darea'"}], "mark": {"type": "text", "fontSize": 27, "baseline": "alphabetic", "color": "#3c3c3c", "font": "Liberation Sans"},
             "encoding": {"y": {"field": "v", "type": "quantitative"}, "text": {"field": "text"}}}
          ]
        }
      ]
    }
  ],
  "config": {
    "view": {"stroke": null},
    "font": "Liberation Sans",
    "axis": {
      "domainColor": "#000000", "domainWidth": 2, "tickColor": "#000000", "tickWidth": 2, "tickSize": 5,
      "labelColor": "#000000", "labelFont": "Liberation Sans", "labelFontWeight": "bold", "labelFontSize": 13, "labelPadding": 1, "labelOverlap": false,
      "titleColor": "#000000", "titleFont": "Liberation Sans", "titleFontWeight": "bold", "titleFontSize": 14, "titlePadding": 9,
      "grid": false
    },
    "axisX": {"labelFontSize": 14, "labelPadding": 4},
    "title": {"anchor": "start", "frame": "bounds", "fontSize": 15, "fontWeight": "normal", "font": "Liberation Sans", "offset": 32, "color": "#000000"}
  }
}
